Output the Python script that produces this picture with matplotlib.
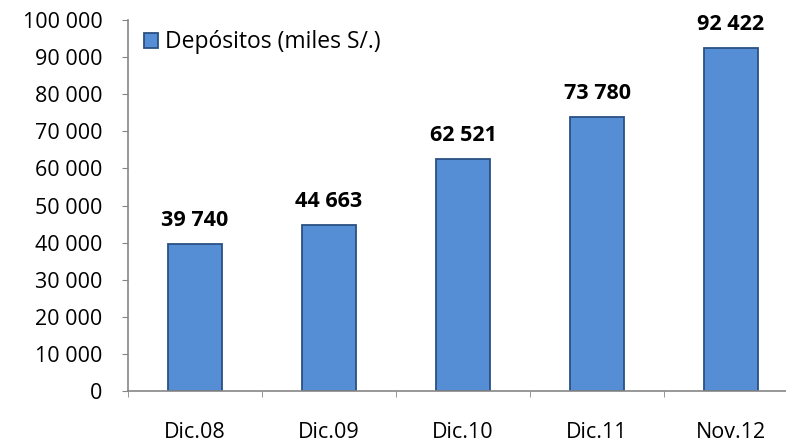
import numpy as np
import matplotlib.pyplot as plt
from matplotlib.ticker import FuncFormatter, FixedLocator

# data
periodos = ['Dic.08', 'Dic.09', 'Dic.10', 'Dic.11', 'Nov.12']
depositos = [39740, 44663, 62521, 73780, 92422]
serie = 'Depósitos (miles S/.)'

plt.rcParams['font.family'] = ['Open Sans', 'DejaVu Sans']

def miles(v, pos=None):
    return f'{int(v):,}'.replace(',', ' ')

fig = plt.figure(figsize=(7.86, 4.45), dpi=100)
W, H = 786, 445
ax = fig.add_axes([128 / W, (H - 391) / H, 670 / W, 371 / H])

x = np.arange(len(periodos))
bars = ax.bar(x, depositos, width=0.41, color='#558ED5', edgecolor='#2B5182',
              linewidth=1.3, label=serie)

for b, v in zip(bars, depositos):
    ax.text(b.get_x() + b.get_width() / 2, v + 4800, miles(v), ha='center',
            va='baseline', fontsize=15.5, fontweight='bold', color='#000000')

ax.set_xlim(-0.5, len(periodos) - 0.5)
ax.set_ylim(0, 100000)
ax.set_yticks(np.arange(0, 100001, 10000))
ax.yaxis.set_major_formatter(FuncFormatter(miles))

ax.set_xticks(x)
ax.set_xticklabels(periodos)
ax.xaxis.set_minor_locator(FixedLocator(np.arange(-0.5, len(periodos), 1.0)))
ax.tick_params(axis='x', which='major', length=0, pad=22.5, labelsize=15.5)
ax.tick_params(axis='x', which='minor', length=4.5, direction='out', color='#868686')
ax.tick_params(axis='y', length=4.5, direction='out', color='#868686', labelsize=15.5, pad=14)

for s in ['top', 'right']:
    ax.spines[s].set_visible(False)
for s in ['left', 'bottom']:
    ax.spines[s].set_color('#868686')
    ax.spines[s].set_linewidth(1.2)

ax.legend(loc='upper left', bbox_to_anchor=(0.0, 1.015), frameon=False,
          fontsize=16.5, handlelength=0.6, handleheight=0.6, handletextpad=0.3,
          borderaxespad=0.3)

fig.savefig('out.png', dpi=100)
